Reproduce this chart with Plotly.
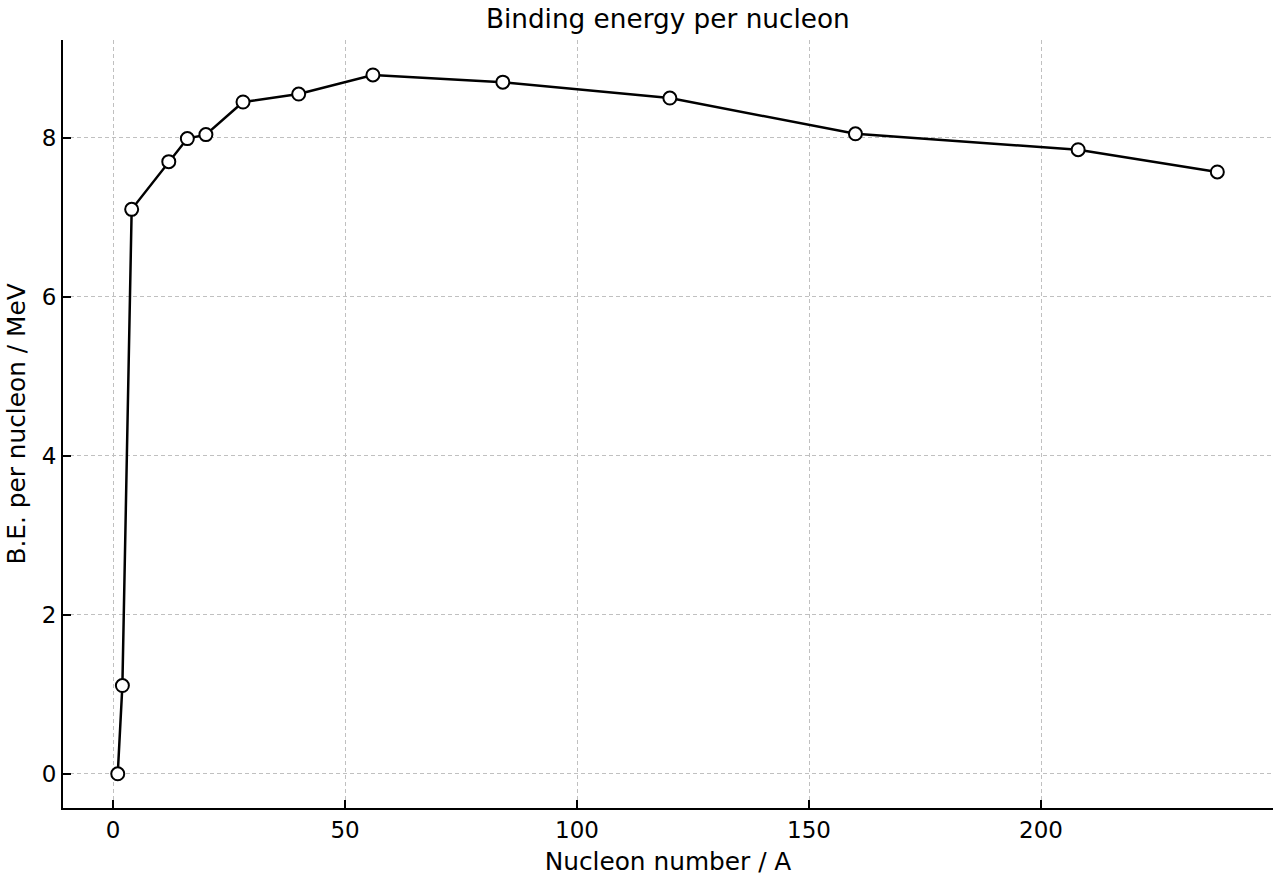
import plotly.graph_objects as go

nucleon_number = [1, 2, 4, 12, 16, 20, 28, 40, 56, 84, 120, 160, 208, 238]
binding_energy = [0.0, 1.11, 7.1, 7.7, 7.99, 8.04, 8.45, 8.55, 8.79, 8.70, 8.50, 8.05, 7.85, 7.57]
x_ticks = [0, 50, 100, 150, 200]
y_ticks = [0, 2, 4, 6, 8]

fig = go.Figure()
fig.add_trace(go.Scatter(
    x=nucleon_number, y=binding_energy, mode="lines+markers",
    line=dict(color="black", width=2.5),
    marker=dict(size=13, color="white", line=dict(color="black", width=2)),
    showlegend=False,
))

font = "DejaVu Sans"
grid = dict(showgrid=True, gridcolor="#c0c0c0", griddash="4px,3px", gridwidth=1, zeroline=False)
fig.update_layout(
    width=1280, height=880,
    margin=dict(l=63, r=7, t=40, b=72),
    plot_bgcolor="white", paper_bgcolor="white",
    font=dict(family=font, size=22, color="black"),
    title=dict(text="Binding energy per nucleon", x=0.5217, xanchor="center",
               y=0.979, yanchor="middle", font=dict(size=26.3, family=font)),
)
fig.update_xaxes(
    range=[-10.8, 250], tickvals=x_ticks, ticks="inside", ticklen=8, tickwidth=2,
    tickcolor="black", showline=True, linecolor="black", linewidth=2, **grid,
    title=dict(text="Nucleon number / A", font=dict(size=24.8), standoff=11),
    tickfont=dict(size=23),
)
fig.update_yaxes(
    range=[-0.43, 9.23], tickvals=y_ticks, ticks="inside", ticklen=8, tickwidth=2,
    tickcolor="black", showline=True, linecolor="black", linewidth=2, **grid,
    title=dict(text="B.E. per nucleon / MeV", font=dict(size=24.8), standoff=9),
    tickfont=dict(size=23),
)
fig.write_html("out.html")
